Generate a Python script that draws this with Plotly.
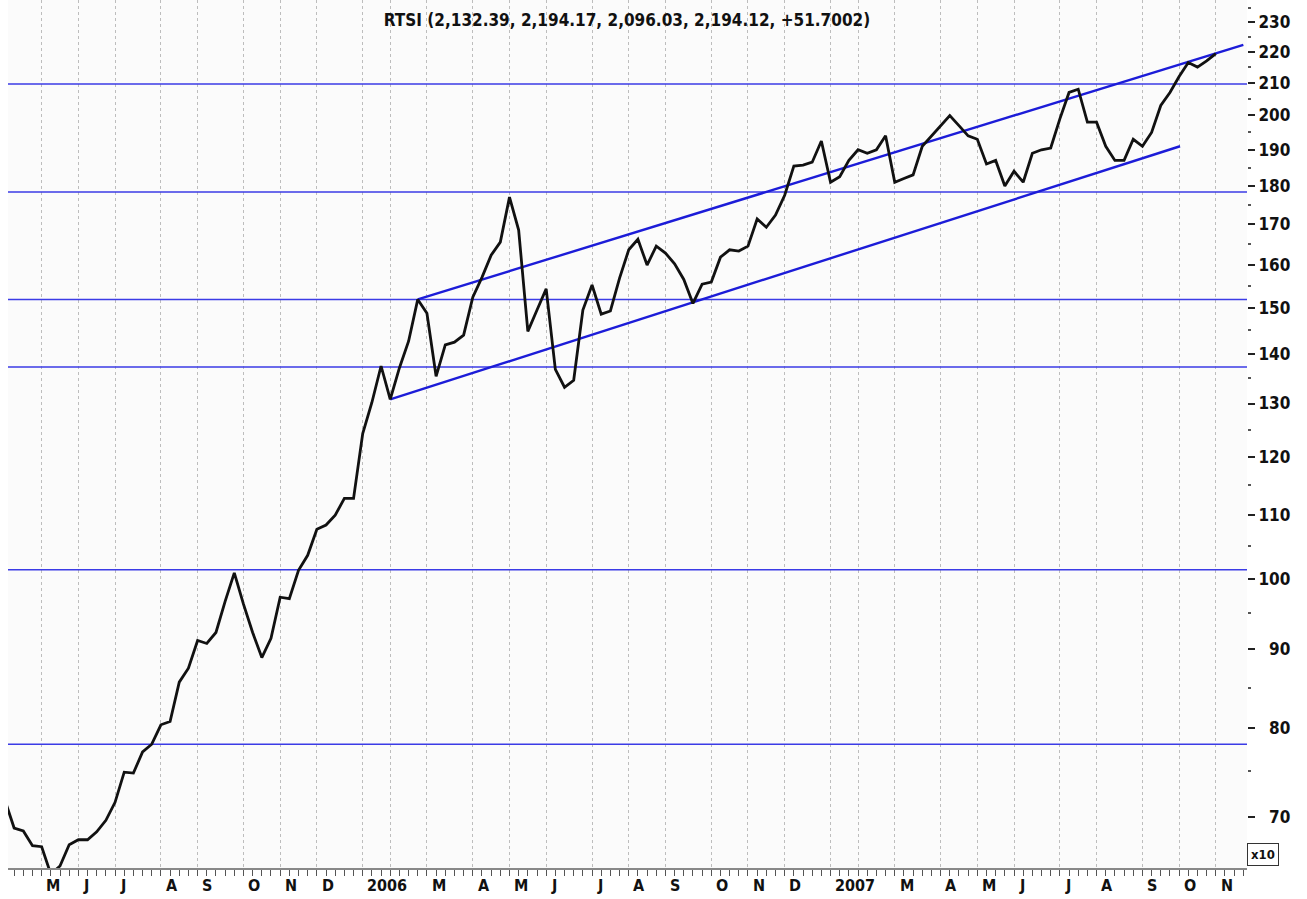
import numpy as np
import pandas as pd
import plotly.graph_objects as go

# ---------------- data (weekly RTSI close, in tens of points) ----------------
first_week = "2005-04-08"
last_week = "2007-11-02"
closed_weeks = ["2006-01-06", "2007-01-05"]   # New-Year market holidays: no bar

close_x10 = [
    71.8, 68.9, 68.6, 67.1, 67.0, 64.3, 65.1, 67.2, 67.7, 67.7,
    68.5, 69.7, 71.6, 74.9, 74.8, 77.2, 78.1, 80.4, 80.8, 85.7,
    87.5, 91.2, 90.8, 92.3, 96.7, 100.9, 96.3, 92.3, 88.9, 91.5,
    97.3, 97.1, 101.3, 103.6, 107.7, 108.4, 110.0, 112.8, 112.8, 124.3,
    130.2, 137.5, 130.8, 137.1, 142.7, 151.9, 148.8, 135.4, 141.9, 142.5,
    144.0, 152.4, 157.0, 162.3, 165.5, 177.0, 168.5, 144.8, 149.5, 154.3,
    136.8, 133.2, 134.6, 149.5, 155.2, 148.6, 149.3, 156.8, 163.6, 166.2,
    159.9, 164.5, 162.8, 160.2, 156.5, 151.0, 155.4, 155.9, 161.8, 163.6,
    163.3, 164.5, 171.3, 169.2, 172.3, 177.5, 185.4, 185.7, 186.5, 192.5,
    181.0, 182.5, 187.0, 190.0, 189.0, 190.0, 194.0, 181.0, 182.0, 183.0,
    191.0, 194.0, 197.0, 200.0, 197.0, 194.0, 193.0, 186.0, 187.0, 180.0,
    184.0, 181.0, 189.0, 190.0, 190.5, 199.0, 207.0, 208.0, 198.0, 198.0,
    191.0, 187.0, 187.0, 193.0, 191.0, 195.0, 203.0, 207.0, 212.0, 216.5,
    215.0, 217.0, 219.4,
]

levels = [209.6, 178.4, 151.9, 137.3, 101.4, 78.1]

channel_lower_bar = [42, 128.1]
channel_lower_val = [130.8, 191.0]
channel_upper_bar = [45, 135.0]
channel_upper_val = [151.9, 222.3]

y_ticks = list(range(70, 240, 10))
y_minor = list(range(75, 240, 10))
title_text = "RTSI (2,132.39, 2,194.17, 2,096.03, 2,194.12, +51.7002)"

# ---------------- build ----------------
weeks = pd.date_range(first_week, last_week, freq="W-FRI")
weeks = weeks[~weeks.isin(pd.to_datetime(closed_weeks))]
bars = np.arange(len(weeks))
assert len(weeks) == len(close_x10), (len(weeks), len(close_x10))

month_starts, month_labels = [], []
for i in range(1, len(weeks)):
    if weeks[i].month != weeks[i - 1].month:
        month_starts.append(i)
        m = weeks[i].month
        if m == 1:
            month_labels.append(str(weeks[i].year))
        elif m == 2:
            month_labels.append("")
        else:
            month_labels.append("JFMAMJJASOND"[m - 1])

x_lo, x_hi = 0.33, 135.4
y_lo, y_hi = 64.9, 237.7

FONT = "DejaVu Sans Condensed, DejaVu Sans, sans-serif"
LEVEL_COLOR = "#3b3be6"
CHANNEL_COLOR = "#1c1cd8"

fig = go.Figure()

for lv in levels:
    fig.add_trace(go.Scatter(x=[x_lo, x_hi], y=[lv, lv], mode="lines",
                             line=dict(color=LEVEL_COLOR, width=1.5),
                             hoverinfo="skip", showlegend=False))

fig.add_trace(go.Scatter(x=channel_lower_bar, y=channel_lower_val, mode="lines",
                         line=dict(color=CHANNEL_COLOR, width=2.4), showlegend=False))
fig.add_trace(go.Scatter(x=channel_upper_bar, y=channel_upper_val, mode="lines",
                         line=dict(color=CHANNEL_COLOR, width=2.4), showlegend=False))

fig.add_trace(go.Scatter(x=bars, y=close_x10, mode="lines",
                         line=dict(color="#111111", width=2.8),
                         text=[d.strftime("%Y-%m-%d") for d in weeks],
                         showlegend=False))

annotations = []
for pos, lab in zip(month_starts, month_labels):
    if lab:
        annotations.append(dict(x=pos + 0.3, y=-0.0200, xref="x", yref="paper",
                                text=lab, showarrow=False, xanchor="left", yanchor="middle",
                                font=dict(family=FONT, size=16, color="#111111", weight="bold")))
annotations.append(dict(x=1.0, y=0.0156, xref="paper", yref="paper", text="x10",
                        showarrow=False, xanchor="left", yanchor="middle",
                        bordercolor="#333333", borderwidth=1, borderpad=3, bgcolor="#ffffff",
                        font=dict(family=FONT, size=13, color="#111111", weight="bold")))

fig.update_layout(
    width=1307, height=899,
    margin=dict(l=8, r=60, t=0, b=31, autoexpand=False),
    paper_bgcolor="#ffffff",
    plot_bgcolor="#fbfbfb",
    showlegend=False,
    title=dict(text=title_text, x=0.4996, xref="paper", xanchor="center",
               y=1 - 20 / 899, yref="container", yanchor="middle",
               font=dict(family=FONT, size=17, color="#111111", weight="bold")),
    annotations=annotations,
    xaxis=dict(
        range=[x_lo, x_hi], showgrid=True, gridcolor="#bdbdbd", griddash="dot", gridwidth=1,
        tickmode="array", tickvals=month_starts, ticktext=["" for _ in month_starts],
        ticks="outside", ticklen=28, tickwidth=1.5, tickcolor="#555555",
        showticklabels=False, zeroline=False, automargin=False,
        showline=True, linecolor="#888888", linewidth=2,
        minor=dict(dtick=1, tick0=0, ticks="outside", ticklen=6, tickwidth=1.2,
                   tickcolor="#555555", showgrid=False),
    ),
    yaxis=dict(
        type="log", range=[np.log10(y_lo), np.log10(y_hi)], side="right",
        showgrid=False, zeroline=False, showline=False, automargin=False,
        tickmode="array", tickvals=y_ticks,
        ticktext=[("\u2007" + str(v)) if v < 100 else str(v) for v in y_ticks],
        ticks="outside", ticklen=7, tickwidth=2, tickcolor="#222222",
        tickfont=dict(family=FONT, size=17, color="#111111", weight="bold"),
        minor=dict(tickmode="array", tickvals=y_minor, ticks="outside", ticklen=3,
                   tickwidth=2, tickcolor="#555555", showgrid=False),
    ),
)

fig.write_html("out.html",
               config={"displayModeBar": False},
               post_script="document.body.style.margin='0px';document.body.style.padding='0px';")
